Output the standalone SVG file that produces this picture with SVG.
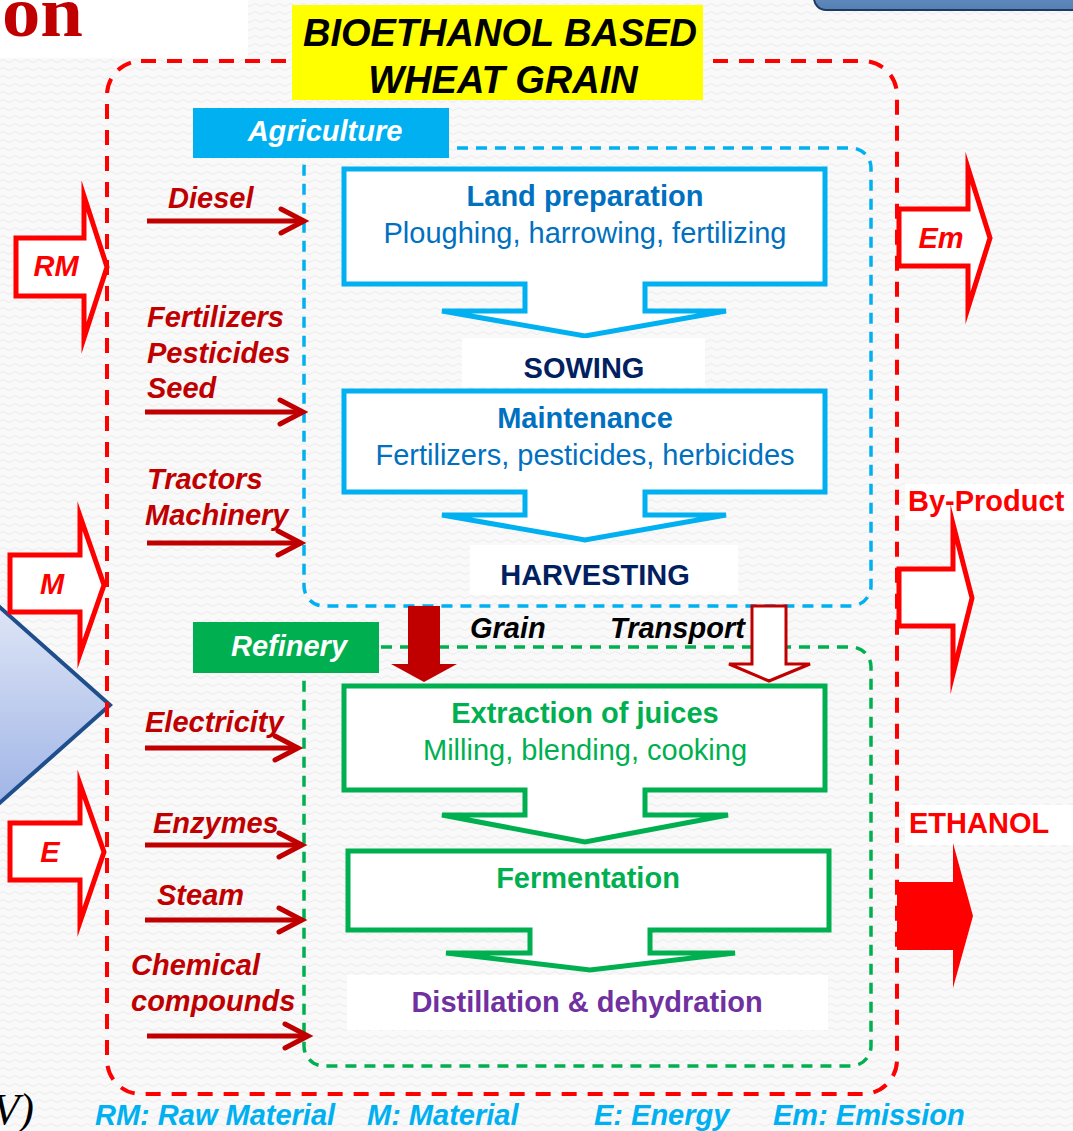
<svg xmlns="http://www.w3.org/2000/svg" width="1073" height="1131" viewBox="0 0 1073 1131">
<defs>
<pattern id="tex" width="12" height="8" patternUnits="userSpaceOnUse">
<rect width="12" height="8" fill="#f9f9f9"/>
<path d="M0,5 Q3,2 6,5 T12,5" fill="none" stroke="#ececec" stroke-width="1"/>
</pattern>
<linearGradient id="tri" x1="0" y1="0" x2="0" y2="1"><stop offset="0" stop-color="#dfe6f6"/><stop offset="1" stop-color="#9fb4e6"/></linearGradient>
<linearGradient id="tab" x1="0" y1="0" x2="0" y2="1"><stop offset="0" stop-color="#6f98c8"/><stop offset="1" stop-color="#5580b4"/></linearGradient>
<marker id="chev" markerUnits="userSpaceOnUse" markerWidth="30" markerHeight="30" viewBox="0 0 30 30" refX="23" refY="15" orient="auto" overflow="visible">
<path d="M2,3 L25,15 L2,27" fill="none" stroke="#c00000" stroke-width="5" stroke-linecap="round"/>
</marker>
<style>
.f{font-family:'Liberation Sans',Arial,sans-serif;font-size:29px}
.ttl{font-size:38px}
.b{font-weight:bold}
.i{font-style:italic}
.m{text-anchor:middle}
.inlab{fill:#c00000}
.inarr{stroke:#c00000;stroke-width:5;fill:none;marker-end:url(#chev)}
.blk{fill:#fff;stroke:#ff0000;stroke-width:5;stroke-miterlimit:12}
.red{fill:#ff0000}
.agr{fill:#fff;stroke:#00b0f0;stroke-width:5}
.rf{fill:#fff;stroke:#00b050;stroke-width:5}
.blue{fill:#0070c0}
.grn{fill:#00b050}
.navy{fill:#002060}
.leg{fill:#00b0f0}
</style>
</defs>

<rect width="1073" height="1131" fill="url(#tex)"/>
<rect x="0" y="0" width="248" height="58" fill="#fff"/>
<text x="2" y="36" font-family="'Liberation Serif','Times New Roman',serif" font-size="71" font-weight="bold" fill="#c00000" textLength="81" lengthAdjust="spacingAndGlyphs">on</text>
<rect x="814" y="-20" width="280" height="30" rx="12" fill="url(#tab)" stroke="#1f3a60" stroke-width="2"/>
<text x="34" y="1124" font-family="'Liberation Serif','Times New Roman',serif" font-size="44" font-style="italic" fill="#000" text-anchor="end">V)</text>

<g id="side-triangle">
<polygon points="-6,602 110,705 -6,808" fill="url(#tri)" stroke="#1f4e8c" stroke-width="4"/>
</g>

<g id="system-boundary">
<rect x="107" y="61" width="790" height="1033" rx="34" fill="none" stroke="#ff0000" stroke-width="4" stroke-dasharray="15 11"/>
</g>

<g id="title">
<rect x="292" y="5" width="411" height="95" fill="#ffff00"/>
<text class="f ttl b i m" x="500" y="46">BIOETHANOL BASED</text>
<text class="f ttl b i m" x="503" y="93">WHEAT GRAIN</text>
</g>

<g id="agriculture">
<rect x="304" y="148" width="567" height="458" rx="20" fill="none" stroke="#00b0f0" stroke-width="3.5" stroke-dasharray="11 8"/>
<rect x="193" y="108" width="256" height="50" fill="#00b0f0"/>
<text class="f b i m" x="325" y="141" fill="#fff">Agriculture</text>
</g>

<g id="land-preparation">
<path class="agr" d="M344,169 H825 V284 H645 V311 H726 L585,336 L442,311 H525 V284 H344 Z"/>
<text class="f b m blue" x="585" y="206">Land preparation</text>
<text class="f m blue" x="585" y="243">Ploughing, harrowing, fertilizing</text>
</g>

<g id="sowing">
<rect x="462" y="338" width="243" height="49" fill="#fff"/>
<text class="f b m navy" x="584" y="378">SOWING</text>
</g>

<g id="maintenance">
<path class="agr" d="M344,391 H825 V492 H645 V515 H726 L585,540 L442,515 H525 V492 H344 Z"/>
<text class="f b m blue" x="585" y="428">Maintenance</text>
<text class="f m blue" x="585" y="465">Fertilizers, pesticides, herbicides</text>
</g>

<g id="harvesting">
<rect x="470" y="545" width="268" height="50" fill="#fff"/>
<text class="f b m navy" x="595" y="585">HARVESTING</text>
</g>

<g id="refinery">
<rect x="304" y="647" width="567" height="419" rx="20" fill="none" stroke="#00b050" stroke-width="3.5" stroke-dasharray="11 8"/>
<rect x="193" y="622" width="186" height="51" fill="#00b050"/>
<text class="f b i m" x="289" y="656" fill="#fff">Refinery</text>
</g>

<g id="extraction">
<path class="rf" d="M344,686 H825 V790 H645 V815 H728 L585,842 L442,815 H525 V790 H344 Z"/>
<text class="f b m grn" x="585" y="723">Extraction of juices</text>
<text class="f m grn" x="585" y="760">Milling, blending, cooking</text>
</g>

<g id="fermentation">
<path class="rf" d="M348,851 H829 V930 H650 V953 H735 L590,970 L446,953 H530 V930 H348 Z"/>
<text class="f b m grn" x="588" y="888">Fermentation</text>
</g>

<g id="distillation">
<rect x="347" y="975" width="481" height="55" fill="#fff"/>
<text class="f b m" x="587" y="1012" fill="#7030a0">Distillation &amp; dehydration</text>
</g>

<g id="input-labels">
<text class="f b i inlab" x="168" y="208">Diesel</text>
<text class="f b i inlab" x="147" y="327">Fertilizers</text>
<text class="f b i inlab" x="147" y="363">Pesticides</text>
<text class="f b i inlab" x="147" y="398">Seed</text>
<text class="f b i inlab" x="147" y="489">Tractors</text>
<text class="f b i inlab" x="145" y="525">Machinery</text>
<text class="f b i inlab" x="145" y="732">Electricity</text>
<text class="f b i inlab" x="153" y="833">Enzymes</text>
<text class="f b i inlab" x="157" y="905">Steam</text>
<text class="f b i inlab" x="131" y="975">Chemical</text>
<text class="f b i inlab" x="131" y="1011">compounds</text>
</g>

<g id="connectors">
<line class="inarr" x1="147" y1="221" x2="302" y2="221"/>
<line class="inarr" x1="145" y1="412" x2="301" y2="412"/>
<line class="inarr" x1="147" y1="543" x2="299" y2="543"/>
<line class="inarr" x1="145" y1="748" x2="296" y2="748"/>
<line class="inarr" x1="145" y1="845" x2="300" y2="845"/>
<line class="inarr" x1="145" y1="920" x2="300" y2="920"/>
<line class="inarr" x1="147" y1="1036" x2="306" y2="1036"/>
<polygon id="grain-arrow" points="408,606 440,606 440,664 457,664 424,682 391,664 408,664" fill="#c00000"/>
<polygon id="transport-arrow" points="752,606 786,606 786,664 810,664 769,681 729,664 752,664" fill="#fff" stroke="#c00000" stroke-width="3"/>
</g>

<g id="grain-transport-label">
<text class="f b i" x="470" y="638" fill="#000">Grain</text>
<text class="f b i" x="610" y="638" fill="#000">Transport</text>
</g>

<g id="rm-input">
<polygon class="blk" points="16,238 84,238 84,196 107,267 84,338 84,296 16,296"/>
<text class="f b i m red" x="56" y="276">RM</text>
</g>
<g id="m-input">
<polygon class="blk" points="10,555 80,555 80,516 104,585 80,654 80,612 10,612"/>
<text class="f b i m red" x="52" y="594">M</text>
</g>
<g id="e-input">
<polygon class="blk" points="10,823 80,823 80,784 104,852 80,922 80,880 10,880"/>
<text class="f b i m red" x="50" y="862">E</text>
</g>

<g id="em-output">
<polygon class="blk" points="899,209 968,209 968,168 990,238 968,308 968,266 899,266"/>
<text class="f b i m red" x="941" y="248">Em</text>
</g>
<g id="byproduct-output">
<rect x="905" y="484" width="168" height="36" fill="#fff"/>
<text class="f b red" x="908" y="511">By-Product</text>
<polygon class="blk" points="899,569 953,569 953,524 972,598 953,674 953,626 899,626"/>
</g>
<g id="ethanol-output">
<rect x="905" y="805" width="168" height="40" fill="#fff"/>
<text class="f b red" x="909" y="833">ETHANOL</text>
<polygon points="897,882 953,882 953,843 973,916 953,988 953,950 897,950" fill="#ff0000"/>
</g>

<g id="legend">
<text class="f b i leg" x="95" y="1125">RM: Raw Material</text>
<text class="f b i leg" x="367" y="1125">M: Material</text>
<text class="f b i leg" x="594" y="1125">E: Energy</text>
<text class="f b i leg" x="773" y="1125">Em: Emission</text>
</g>
</svg>
